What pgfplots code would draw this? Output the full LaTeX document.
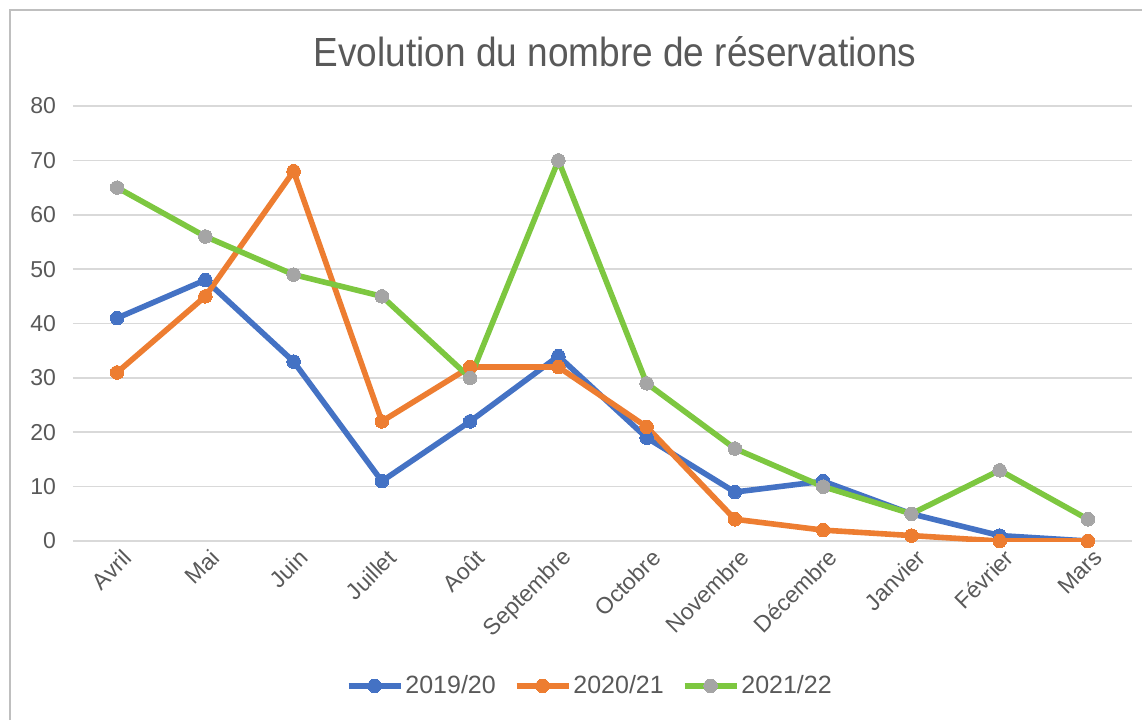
\documentclass[border=0pt]{standalone}
\usepackage{pgfplots}
\pgfplotsset{compat=1.18}
\usepackage{fontspec}
\setmainfont{Liberation Sans}
\definecolor{cblue}{HTML}{4472C4}
\definecolor{corange}{HTML}{ED7D31}
\definecolor{cgreen}{HTML}{7DC740}
\definecolor{cgray}{HTML}{A5A5A5}
\definecolor{ctext}{HTML}{595959}
\definecolor{cgrid}{HTML}{D9D9D9}
\definecolor{cframe}{HTML}{BFBFBF}
\begin{document}
\begin{tikzpicture}
\useasboundingbox (0,0) rectangle (571pt,360pt);
\draw[cframe, line width=0.8pt] (5pt,0) -- (5pt,355pt) -- (571pt,355pt);
\node[text=ctext, font=\fontsize{18.5}{22}\selectfont, yscale=1.1] at (307.5pt,334pt) {Evolution du nombre de réservations};
\begin{axis}[
  at={(36.5pt,89.5pt)}, anchor=south west,
  scale only axis, width=529.5pt, height=217.5pt,
  xmin=-0.5, xmax=11.5, ymin=0, ymax=80,
  xtick={0,...,11},
  xticklabels={Avril,Mai,Juin,Juillet,Août,Septembre,Octobre,Novembre,Décembre,Janvier,Février,Mars},
  ytick={0,10,...,80},
  ymajorgrids, grid style={cgrid, line width=0.8pt},
  axis line style={draw=none},
  major tick length=0pt,
  /pgf/number format/assume math mode=true,
  tick label style={text=ctext, font=\fontsize{11.5}{13}\selectfont},
  xticklabel style={rotate=45, anchor=east, xshift=2.5pt, yshift=-8pt},
  yticklabel style={xshift=-5pt},
  legend columns=3,
  legend style={at={(0.488,-0.333)}, anchor=center, draw=none, fill=none,
    font=\fontsize{12.5}{14}\selectfont, text=ctext,
    /tikz/every even column/.append style={column sep=8pt},
    inner xsep=0pt, nodes={inner xsep=1pt}},
  legend image code/.code={\draw[mark repeat=2,mark phase=2] plot coordinates {(0pt,0pt) (13pt,0pt) (26pt,0pt)};},
  every axis plot/.append style={line width=2.8pt, mark=*, mark size=3.4pt},
]
\addplot[cblue, mark options={fill=cblue, draw=cblue, line width=0pt}] coordinates {
(0,41) (1,48) (2,33) (3,11) (4,22) (5,34) (6,19) (7,9) (8,11) (9,5) (10,1) (11,0)};
\addlegendentry{2019/20}
\addplot[corange, mark options={fill=corange, draw=corange, line width=0pt}] coordinates {
(0,31) (1,45) (2,68) (3,22) (4,32) (5,32) (6,21) (7,4) (8,2) (9,1) (10,0) (11,0)};
\addlegendentry{2020/21}
\addplot[cgreen, mark options={fill=cgray, draw=cgray, line width=0pt}] coordinates {
(0,65) (1,56) (2,49) (3,45) (4,30) (5,70) (6,29) (7,17) (8,10) (9,5) (10,13) (11,4)};
\addlegendentry{2021/22}
\end{axis}
\end{tikzpicture}
\end{document}
